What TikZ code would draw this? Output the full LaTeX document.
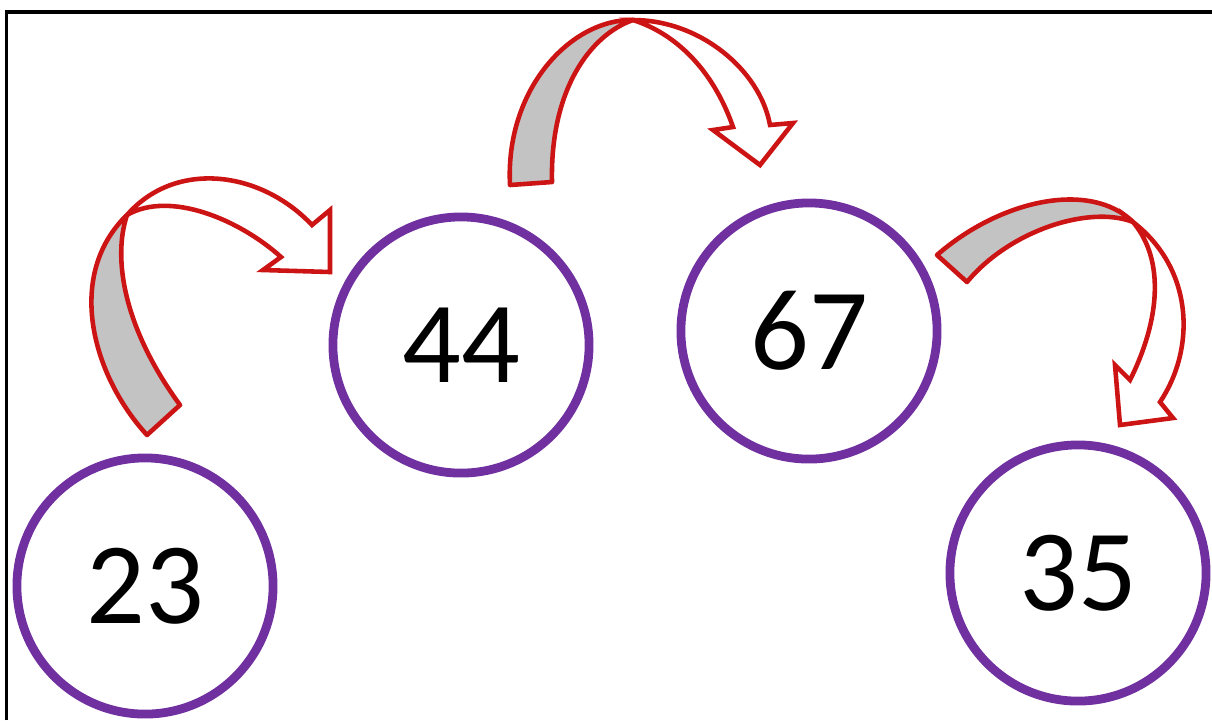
\documentclass[tikz,border=0pt]{standalone}
\usepackage{fontspec}
\setmainfont{Carlito}
\definecolor{ringpurple}{RGB}{112,48,160}
\definecolor{arrowred}{RGB}{205,20,20}
\definecolor{backgray}{RGB}{195,195,195}

\begin{document}
\begin{tikzpicture}[x=0.01cm, y=-0.01cm,
  num/.style={draw=ringpurple, line width=2.5pt, circle, minimum size=2.56cm, inner sep=0pt, font=\fontsize{33}{38}\selectfont},
  bandback/.style={draw=arrowred, line width=1.3pt, fill=backgray, line join=round},
  bandfront/.style={draw=arrowred, line width=1.3pt, fill=white, line join=miter}]
\useasboundingbox (0,0) rectangle (1212,720);
\draw[line width=0.9pt] (6.5,720) -- (6.5,12) -- (1212,12);

\node[num] (n23) at (145,586) {23};
\node[num] (n44) at (461,345) {44};
\node[num] (n67) at (809,331) {67};
\node[num] (n35) at (1078,573) {35};

% 23 -> 44
\coordinate (tw1) at (127,215);
\draw[bandback] (147,435) .. controls (92,375) and (65,275) .. (tw1)
  .. controls (112,260) and (125,330) .. (180,405) -- cycle;
\draw[bandfront] (tw1) .. controls (175,160) and (260,170) .. (312,225)
  -- (330,210) -- (330,272) -- (263,270) -- (281,257)
  .. controls (240,220) and (170,190) .. (tw1) -- cycle;

% 44 -> 67
\coordinate (tw2) at (633,20);
\draw[bandback] (510,185) .. controls (505,90) and (570,19) .. (tw2)
  .. controls (590,35) and (550,90) .. (552,182) -- cycle;
\draw[bandfront] (tw2) .. controls (700,20) and (760,70) .. (770,125)
  -- (793,123) -- (760,165) -- (713,130) -- (733,127)
  .. controls (715,75) and (680,35) .. (tw2) -- cycle;

% 67 -> 35
\coordinate (tw3) at (1133,222);
\draw[bandback] (937,255) .. controls (1000,200) and (1090,180) .. (tw3)
  .. controls (1090,205) and (1010,230) .. (967,282) -- cycle;
\draw[bandfront] (tw3) .. controls (1195,270) and (1195,350) .. (1160,402)
  -- (1173,418) -- (1120,425) -- (1115,365) -- (1130,380)
  .. controls (1160,320) and (1165,260) .. (tw3) -- cycle;
\end{tikzpicture}
\end{document}
